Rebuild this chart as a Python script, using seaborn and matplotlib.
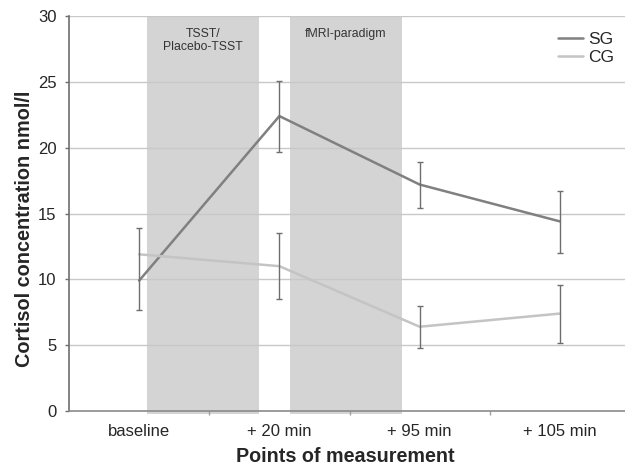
import matplotlib
matplotlib.use("Agg")
import matplotlib.pyplot as plt
import seaborn as sns
import pandas as pd
import numpy as np

# ---- data ----
timepoints = ["baseline", "+ 20 min", "+ 95 min", "+ 105 min"]
sg_values = [9.9, 22.4, 17.2, 14.4]
cg_values = [11.9, 11.0, 6.4, 7.4]
# error bar bounds
sg_lower = [7.7, 19.7, 15.4, 12.0]
sg_upper = [13.9, 25.1, 18.9, 16.7]
cg_lower = [np.nan, 8.5, 4.8, 5.2]
cg_upper = [np.nan, 13.5, 8.0, 9.6]
phase_labels = ["TSST/\nPlacebo-TSST", "fMRI-paradigm"]
phase_starts = [0.057, 1.079]
phase_ends = [0.857, 1.871]
yticks = [0, 5, 10, 15, 20, 25, 30]

sns.set_theme(style="white")
plt.rcParams["font.family"] = ["Liberation Sans", "DejaVu Sans"]

fig = plt.figure(figsize=(6.25, 4.67), dpi=100)
ax = fig.add_axes([69 / 625, 56 / 467, 561 / 625, 395 / 467])

df = pd.DataFrame({
    "time": timepoints * 2,
    "value": sg_values + cg_values,
    "group": ["SG"] * 4 + ["CG"] * 4,
})
palette = {"SG": "#808080", "CG": "#c4c4c4"}

# shaded phases
for s, e in zip(phase_starts, phase_ends):
    ax.axvspan(s, e, ymin=-0.008, ymax=1, color="#d4d4d4", zorder=0, lw=0, clip_on=False)
for s, e, lab in zip(phase_starts, phase_ends, phase_labels):
    ax.text((s + e) / 2, 29.1, lab, ha="center", va="top", fontsize=8.8,
            color="#333333", linespacing=1.15, zorder=3)

# grid
for yv in yticks[1:]:
    ax.axhline(yv, color="#c8c8c8", lw=1.0, zorder=1)

sns.lineplot(data=df, x="time", y="value", hue="group", palette=palette,
             hue_order=["SG", "CG"], sort=False, lw=1.8, ax=ax, zorder=4,
             legend=True)

xpos = np.arange(len(timepoints))
for vals, lo, hi in [(sg_values, sg_lower, sg_upper), (cg_values, cg_lower, cg_upper)]:
    v = np.array(vals); l = np.array(lo); h = np.array(hi)
    m = ~np.isnan(l)
    ax.errorbar(xpos[m], v[m], yerr=[v[m] - l[m], h[m] - v[m]], fmt="none",
                ecolor="#6e6e6e", elinewidth=1.0, capsize=2.5, capthick=1.0, zorder=5)

ax.set_xlim(-0.5, 3.5)
ax.set_ylim(0, 30)
ax.set_yticks(yticks)
ax.set_yticklabels([str(t) for t in yticks], fontsize=12)
ax.set_xticks(xpos)
ax.set_xticklabels(timepoints, fontsize=12)
ax.tick_params(axis="x", length=0, pad=9)
ax.tick_params(axis="y", length=3, width=1, color="#6e6e6e", pad=6, direction="out", left=True)
ax.set_xticks([0.5, 1.5, 2.5, 3.5], minor=True)
ax.tick_params(axis="x", which="minor", length=3, width=1, color="#a0a0a0", direction="out", bottom=True)

for side in ["top", "right"]:
    ax.spines[side].set_visible(False)
ax.spines["left"].set_color("#6e6e6e")
ax.spines["left"].set_linewidth(1.2)
ax.spines["bottom"].set_color("#8a8a8a")
ax.spines["bottom"].set_linewidth(1.2)

ax.set_xlabel("Points of measurement", fontsize=14.2, fontweight="bold")
ax.xaxis.set_label_coords(0.493, -0.09)
ax.set_ylabel("Cortisol concentration nmol/l", fontsize=14.3, fontweight="bold")
ax.yaxis.set_label_coords(-0.062, 0.462)

leg = ax.legend(loc="upper right", bbox_to_anchor=(0.99, 0.985), frameon=False,
                fontsize=12.5, handlelength=1.45, handletextpad=0.3, labelspacing=0.15,
                borderaxespad=0.2)

fig.savefig("out.png", dpi=100)
